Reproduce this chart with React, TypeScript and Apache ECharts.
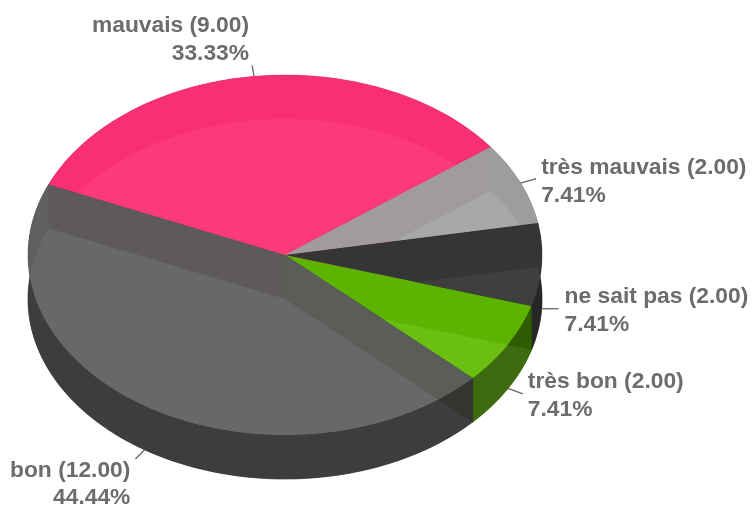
import React, { useEffect, useRef } from "react";
import * as echarts from "echarts";

const categories = ["mauvais", "très mauvais", "ne sait pas", "très bon", "bon"];
const values = [9, 2, 2, 2, 12];

const topColors = ["#f82f72", "#9d9d9d", "#353535", "#5cb300", "#5f6060"];
const innerColors = ["#fd3a79", "#a8a8a8", "#3f3f3f", "#6abf10", "#686868"];
const wallColors = ["#d02560", "#777777", "#333333", "#2f5c00", "#3d3d3d"];
const floorColors = ["#d02560", "#777777", "#272727", "#3f6b10", "#3d3d3d"];
const startWallColors = [null, "#a09c9d", null, null, "#5b5d58"];
const endWallColors = [null, null, null, null, "#5f5a5a"];
const seenWallColors = [null, null, null, null, "#33352f"];

const CX = 285;
const CY = 255;
const RX = 257;
const RY = 180;
const DEPTH = 44;
const START = 156.9;
const TEXT = "#6c6c6c";

const total = values.reduce((a, b) => a + b, 0);

const angles = (i: number) => {
  let before = 0;
  for (let k = 0; k < i; k++) before += values[k];
  const a0 = START - (before / total) * 360;
  return [a0, a0 - (values[i] / total) * 360];
};
const pt = (deg: number, dy = 0) => {
  const t = (deg * Math.PI) / 180;
  return [CX + RX * Math.cos(t), CY - RY * Math.sin(t) + dy];
};
const arc = (a0: number, a1: number, dy = 0) => {
  const n = Math.max(2, Math.ceil(Math.abs(a0 - a1)));
  const out: number[][] = [];
  for (let j = 0; j <= n; j++) out.push(pt(a0 + ((a1 - a0) * j) / n, dy));
  return out;
};
const wedge = (a0: number, a1: number, dy = 0) => [[CX, CY + dy], ...arc(a0, a1, dy)];
const wall = (a0: number, a1: number) => [...arc(a0, a1, 0), ...arc(a0, a1, DEPTH).reverse()];
const radial = (a: number) => [[CX, CY], pt(a, 0), pt(a, DEPTH), [CX, CY + DEPTH]];
const poly = (points: number[][], fill: string) => ({
  type: "polygon",
  shape: { points },
  style: { fill, stroke: fill, lineWidth: 0.4 },
});

const wallLayer = (_p: any, api: any) => {
  const i = api.value(1);
  const [a0, a1] = angles(i);
  const kids: any[] = [poly(wall(a0, a1), wallColors[i]), poly(wedge(a0, a1, DEPTH), floorColors[i])];
  if (seenWallColors[i]) kids.push(poly(radial(a0), seenWallColors[i] as string));
  return { type: "group", children: kids };
};

const topLayer = (_p: any, api: any) => {
  const i = api.value(1);
  const [a0, a1] = angles(i);
  const kids: any[] = [poly(wedge(a0, a1), topColors[i])];
  if (startWallColors[i]) kids.push(poly(radial(a0), startWallColors[i] as string));
  if (endWallColors[i]) kids.push(poly(radial(a1), endWallColors[i] as string));
  kids.push(poly(wedge(a0, a1, DEPTH), innerColors[i]));
  return {
    type: "group",
    children: kids.map((k) => ({ ...k, clipPath: { type: "polygon", shape: { points: wedge(a0, a1) } } })),
  };
};

const labelLayer = (_p: any, api: any) => {
  const i = api.value(1);
  const v = api.value(0);
  const [a0, a1] = angles(i);
  const mid = (a0 + a1) / 2;
  const s = Math.sin((mid * Math.PI) / 180);
  const c = Math.cos((mid * Math.PI) / 180);
  const from = pt(mid, s < 0 ? DEPTH : 0);
  const flat = Math.abs(s) < 0.2;
  const to = [from[0] + c * 17, from[1] - (flat ? 0 : s * 11)];
  const right = c >= 0;
  const text = `${categories[i]} (${v.toFixed(2)})\n${((v / total) * 100).toFixed(2)}%`;
  let dy = 0;
  let lineHeight = 28;
  let gap = right ? 5 : -5;
  if (s > 0.9) {
    dy = -27;
    gap = -3;
  } else if (s > 0) dy = 1;
  else if (s < -0.7) {
    dy = 23.5;
    lineHeight = 27;
  }
  if (flat) gap = 6;
  return {
    type: "group",
    children: [
      {
        type: "line",
        shape: { x1: from[0], y1: from[1], x2: to[0], y2: to[1] },
        style: { stroke: "#666666", lineWidth: 1.3 },
      },
      {
        type: "text",
        x: to[0] + gap,
        y: to[1] + dy,
        style: {
          text,
          fill: TEXT,
          font: "bold 22.8px 'Liberation Sans', Arial, sans-serif",
          lineHeight,
          align: right ? "left" : "right",
          verticalAlign: "middle",
        },
      },
    ],
  };
};

const rows = values.map((v, i) => [v, i]);
const layer = (renderItem: any, z: number) => ({
  type: "custom",
  coordinateSystem: "none",
  silent: true,
  clip: false,
  z,
  data: rows,
  renderItem,
});

export default function App() {
  const ref = useRef<HTMLDivElement>(null);
  useEffect(() => {
    const chart = echarts.init(ref.current!, null, { renderer: "svg" });
    chart.setOption({
      animation: false,
      backgroundColor: "#ffffff",
      series: [layer(wallLayer, 1), layer(topLayer, 2), layer(labelLayer, 3)],
    });
    return () => chart.dispose();
  }, []);
  return (
    <div
      ref={ref}
      style={{ position: "absolute", left: 0, top: 0, width: 753, height: 511, filter: "blur(0.5px)" }}
    />
  );
}
